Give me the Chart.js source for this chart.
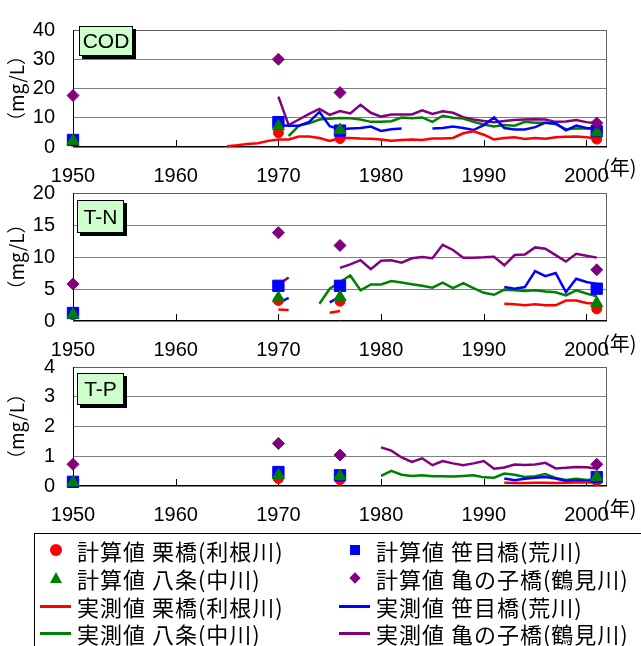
<!DOCTYPE html>
<html lang="ja">
<head>
<meta charset="UTF-8">
<title>COD / T-N / T-P</title>
<script src="https://cdn.jsdelivr.net/npm/chart.js"></script>
<style>
  body { margin: 0; background: #fff; }
  #wrap { position: relative; width: 641px; height: 646px; overflow: hidden; }
  #wrap canvas { position: absolute; left: 0; top: 0; }
  .tag { position: absolute; background: #ccffcc; border: 1px solid #000; box-shadow: 3px 3px 0 #000;
         font: 21px "Liberation Sans", Arial, sans-serif; text-align: center; box-sizing: border-box; color: #000; }
  .nen { position: absolute; left: 603px; font: 20px "Noto Sans CJK JP"; line-height: 20px; color: #000; }
  #legend { position: absolute; left: 34px; top: 533px; width: 640px; height: 130px; border: 1px solid #000; box-sizing: border-box; }
  .item { position: absolute; font: 22px "Noto Sans CJK JP"; line-height: 28px; letter-spacing: 1px; white-space: nowrap; color: #000; }
  .mk { position: absolute; }
</style>
</head>
<body>
<div id="wrap">
  <canvas id="cod" width="641" height="646"></canvas>
  <canvas id="tn" width="641" height="646"></canvas>
  <canvas id="tp" width="641" height="646"></canvas>

  <div class="tag" style="left:79px;top:26px;width:54px;height:30px;line-height:28px;">COD</div>
  <div class="tag" style="left:77px;top:200px;width:47px;height:33px;line-height:31px;">T-N</div>
  <div class="tag" style="left:77px;top:373px;width:47px;height:32px;line-height:30px;">T-P</div>

  <div class="nen" style="top:157px;">(年)</div>
  <div class="nen" style="top:333px;">(年)</div>
  <div class="nen" style="top:498px;">(年)</div>

  <div id="legend"></div>
</div>

<script>
  // 年
  const xTickYears = [1950, 1960, 1970, 1980, 1990, 2000];
  const measYears = [1965, 1966, 1967, 1968, 1969, 1970, 1971, 1972, 1973, 1974, 1975, 1976, 1977, 1978, 1979,
    1980, 1981, 1982, 1983, 1984, 1985, 1986, 1987, 1988, 1989, 1990, 1991, 1992, 1993, 1994, 1995, 1996,
    1997, 1998, 1999, 2000, 2001];
  const calcYears = [1950, 1970, 1976, 2001];

  // COD 計算値
  const codKuriCalc = [2.0, 4.9, 2.9, 2.7];
  const codSasameCalc = [2.4, 8.5, 5.6, 5.4];
  const codHachijoCalc = [2.1, 7.1, 5.8, 5.0];
  const codKamenokoCalc = [17.6, 30.0, 18.6, 8.2];
  // COD 実測値
  const codKuriMeas = [0.3, 0.6, 1.0, 1.3, 2.1, 2.6, 2.6, 3.6, 3.6, 3.1, 2.1, 3.1, 3.1, 2.9, 2.8, 2.6, 2.1, 2.4, 2.6,
    2.4, 2.9, 2.9, 3.1, 4.7, 5.4, 4.2, 2.6, 3.1, 3.3, 2.7, 3.1, 2.8, 3.3, 3.5, 3.6, 3.3, 2.9];
  const codSasameMeas = [null, null, null, null, null, 7.5, 7.3, 7.3, 8.6, 12.0, 7.1, 6.1, 6.3, 6.5, 7.0, 5.5, 6.1, 6.3,
    null, null, 6.3, 6.5, 7.0, 6.5, 5.8, 7.5, 10.1, 6.5, 6.0, 6.0, 6.8, 8.3, 8.1, 5.7, 7.3, 6.5, 6.3];
  const codHachijoMeas = [null, null, null, null, null, null, 3.7, 7.3, 8.1, 9.4, 9.7, 9.9, 9.8, 9.4, 8.6, 8.6, 8.8, 10.1,
    9.8, 10.1, 8.6, 10.7, 10.0, 9.7, 8.6, 7.7, 7.0, 7.5, 7.3, 8.6, 8.3, 8.3, 7.8, 6.1, 6.3, 6.3, 6.3];
  const codKamenokoMeas = [null, null, null, null, null, 17.2, 7.5, 9.4, 11.3, 13.0, 11.0, 12.3, 11.5, 14.4, 11.7, 10.4,
    11.1, 11.1, 11.1, 12.5, 11.3, 12.2, 11.7, 10.2, 9.4, 8.9, 8.5, 8.9, 9.2, 9.4, 9.5, 9.4, 8.6, 8.7, 9.2, 8.5, 8.1];

  // T-N 計算値
  const tnKuriCalc = [1.0, 3.2, 3.1, 1.9];
  const tnSasameCalc = [1.25, 5.5, 5.5, 5.05];
  const tnHachijoCalc = [1.0, 3.6, 3.75, 2.8];
  const tnKamenokoCalc = [5.8, 13.8, 11.8, 8.0];
  // T-N 実測値
  const tnKuriMeas = [null, null, null, null, null, 1.8, 1.7, null, null, null, 1.3, 1.55, null, null, null, null, null,
    null, null, null, null, null, null, null, null, null, null, 2.7, 2.6, 2.45, 2.6, 2.45, 2.45, 3.2, 3.2, 2.8, 2.7];
  const tnSasameMeas = [null, null, null, null, null, 2.8, 3.6, null, null, null, 2.9, 3.8, null, null, null, null, null,
    null, null, null, null, null, null, null, null, null, null, 5.3, 5.05, 5.3, 7.8, 7.0, 7.5, 4.5, 6.6, 6.1, 5.8];
  const tnHachijoMeas = [null, null, null, null, null, null, null, null, null, 2.7, 5.05, 6.1, 7.1, 4.8, 5.7, 5.7, 6.25,
    6.0, 5.75, 5.5, 5.2, 6.0, 5.15, 5.9, 5.15, 4.4, 4.1, 4.9, 4.8, 4.7, 4.8, 4.6, 4.5, 4.0, 4.8, 4.3, 3.85];
  const tnKamenokoMeas = [null, null, null, null, null, 5.7, 6.8, null, null, null, null, 8.3, 8.85, 9.5, 8.1, 9.4, 9.5,
    9.1, 9.8, 10.0, 9.8, 11.9, 11.1, 9.9, 9.9, 9.95, 10.05, 8.7, 10.3, 10.4, 11.5, 11.3, 10.3, 9.3, 10.5, 10.2, 9.9];

  // T-P 計算値
  const tpKuriCalc = [0.12, 0.25, 0.21, 0.17];
  const tpSasameCalc = [0.14, 0.47, 0.36, 0.30];
  const tpHachijoCalc = [0.12, 0.36, 0.33, 0.30];
  const tpKamenokoCalc = [0.73, 1.43, 1.04, 0.73];
  // T-P 実測値
  const tpKuriMeas = [null, null, null, null, null, null, null, null, null, null, null, null, null, null, null, null, null,
    null, null, null, null, null, null, null, null, null, null, 0.11, 0.1, 0.1, 0.11, 0.11, 0.1, 0.11, 0.12, 0.13, 0.12];
  const tpSasameMeas = [null, null, null, null, null, null, null, null, null, null, null, null, null, null, null, null, null,
    null, null, null, null, null, null, null, null, null, null, 0.25, 0.19, 0.24, 0.28, 0.3, 0.25, 0.17, 0.19, 0.17, 0.17];
  const tpHachijoMeas = [null, null, null, null, null, null, null, null, null, null, null, null, null, null, null, 0.34,
    0.51, 0.38, 0.34, 0.36, 0.33, 0.33, 0.32, 0.34, 0.36, 0.29, 0.28, 0.42, 0.38, 0.3, 0.33, 0.4, 0.27, 0.2, 0.24, 0.2, 0.23];
  const tpKamenokoMeas = [null, null, null, null, null, null, null, null, null, null, null, null, null, null, null, 1.3,
    1.19, 0.96, 0.81, 0.93, 0.7, 0.84, 0.76, 0.7, 0.76, 0.84, 0.58, 0.62, 0.72, 0.71, 0.72, 0.78, 0.59, 0.61, 0.64, 0.63, 0.59];

  const RED = "#ff0000", BLUE = "#0000ff", GREEN = "#008000", PURPLE = "#800080";
  const NUM_FONT = { family: "'Liberation Sans', Arial, sans-serif", size: 20 };

  function pts(xs, ys) {
    return xs.map((x, i) => ({ x: x, y: ys[i] }));
  }

  function lineSet(ys, color) {
    return { type: "line", data: pts(measYears, ys), borderColor: color, borderWidth: 2.5,
      pointRadius: 0, spanGaps: false, order: 10, clip: false };
  }

  function markSet(ys, color, style, radius, order) {
    return { type: "line", data: pts(calcYears, ys), showLine: false, pointStyle: style, pointRadius: radius,
      pointBackgroundColor: color, pointBorderColor: color, pointBorderWidth: 1, order: order, clip: false };
  }

  // 枠線と内向きの目盛り
  const framePlugin = {
    id: "frame",
    beforeDatasetsDraw(chart) {
      const { ctx, chartArea: a, scales } = chart;
      ctx.save();
      ctx.lineWidth = 1;
      ctx.strokeStyle = "#606060";
      ctx.beginPath();
      ctx.moveTo(a.left, a.top + 0.5);
      ctx.lineTo(a.right - 0.5, a.top + 0.5);
      ctx.lineTo(a.right - 0.5, a.bottom);
      ctx.stroke();
      ctx.strokeStyle = "#000";
      ctx.beginPath();
      ctx.moveTo(a.left + 0.5, a.top);
      ctx.lineTo(a.left + 0.5, a.bottom - 0.5);
      ctx.lineTo(a.right, a.bottom - 0.5);
      xTickYears.slice(1).forEach((yr) => {
        const x = Math.round(scales.x.getPixelForValue(yr)) + 0.5;
        ctx.moveTo(x, a.bottom);
        ctx.lineTo(x, a.bottom - 7);
      });
      ctx.stroke();
      ctx.restore();
    },
  };

  function makePanel(id, top, bottom, yMax, yStep, calc, meas) {
    const ctx = document.getElementById(id).getContext("2d");
    new Chart(ctx, {
      type: "line",
      data: {
        datasets: [
          lineSet(meas[0], RED),
          lineSet(meas[1], BLUE),
          lineSet(meas[2], GREEN),
          lineSet(meas[3], PURPLE),
          markSet(calc[0], RED, "circle", 5, 4),
          markSet(calc[1], BLUE, "rect", 8, 3),
          markSet(calc[2], GREEN, "triangle", 7, 2),
          markSet(calc[3], PURPLE, "rectRot", 6, 1),
        ],
      },
      options: {
        responsive: false,
        animation: false,
        events: [],
        layout: { padding: { left: 0, right: 34, top: top, bottom: 646 - bottom - 43 } },
        plugins: { legend: { display: false }, tooltip: { enabled: false } },
        scales: {
          x: {
            type: "linear",
            min: 1950,
            max: 2002,
            afterBuildTicks: (s) => { s.ticks = xTickYears.map((v) => ({ value: v })); },
            afterFit: (s) => { s.height = 43; },
            grid: { drawOnChartArea: false, drawTicks: false },
            border: { display: false },
            ticks: { padding: 17, color: "#000", font: NUM_FONT, maxRotation: 0, autoSkip: false,
              callback: (v) => String(v) },
          },
          y: {
            min: 0,
            max: yMax,
            afterFit: (s) => { s.width = 73; },
            grid: { color: "#808080", drawTicks: false },
            border: { display: false },
            ticks: { stepSize: yStep, padding: 18, color: "#000", font: NUM_FONT },
            title: { display: true, text: "（mg/L）", color: "#000",
              font: { family: "'Noto Sans CJK JP'", size: 19 }, padding: { top: 5, bottom: 0 } },
          },
        },
      },
      plugins: [framePlugin],
    });
  }

  makePanel("cod", 18, 147, 40, 10,
    [codKuriCalc, codSasameCalc, codHachijoCalc, codKamenokoCalc],
    [codKuriMeas, codSasameMeas, codHachijoMeas, codKamenokoMeas]);
  makePanel("tn", 193, 321, 20, 5,
    [tnKuriCalc, tnSasameCalc, tnHachijoCalc, tnKamenokoCalc],
    [tnKuriMeas, tnSasameMeas, tnHachijoMeas, tnKamenokoMeas]);
  makePanel("tp", 367, 486, 4, 1,
    [tpKuriCalc, tpSasameCalc, tpHachijoCalc, tpKamenokoCalc],
    [tpKuriMeas, tpSasameMeas, tpHachijoMeas, tpKamenokoMeas]);

  // 凡例
  const legendLabels = [
    "計算値 栗橋(利根川)", "計算値 笹目橋(荒川)",
    "計算値 八条(中川)", "計算値 亀の子橋(鶴見川)",
    "実測値 栗橋(利根川)", "実測値 笹目橋(荒川)",
    "実測値 八条(中川)", "実測値 亀の子橋(鶴見川)",
  ];
  const legendColors = [RED, BLUE, GREEN, PURPLE, RED, BLUE, GREEN, PURPLE];
  const legendKinds = ["circle", "square", "triangle", "diamond", "line", "line", "line", "line"];

  const legend = document.getElementById("legend");
  const rowCenters = [16, 44, 72, 99];
  const colText = [42, 341];
  const colMark = [21, 320];
  legendLabels.forEach((label, i) => {
    const row = Math.floor(i / 2), col = i % 2;
    const cy = rowCenters[row], cx = colMark[col], color = legendColors[i];
    const t = document.createElement("div");
    t.className = "item";
    t.textContent = label;
    t.style.left = colText[col] + "px";
    t.style.top = (cy - 14) + "px";
    legend.appendChild(t);

    const m = document.createElement("div");
    m.className = "mk";
    const kind = legendKinds[i];
    if (kind === "circle") {
      Object.assign(m.style, { left: cx - 6 + "px", top: cy - 6 + "px", width: "12px", height: "12px",
        borderRadius: "50%", background: color });
    } else if (kind === "square") {
      Object.assign(m.style, { left: cx - 5 + "px", top: cy - 5 + "px", width: "10px", height: "10px", background: color });
    } else if (kind === "triangle") {
      Object.assign(m.style, { left: cx - 6 + "px", top: cy - 6 + "px", width: "0", height: "0",
        borderLeft: "6px solid transparent", borderRight: "6px solid transparent", borderBottom: "11px solid " + color });
    } else if (kind === "diamond") {
      Object.assign(m.style, { left: cx - 4 + "px", top: cy - 4 + "px", width: "8px", height: "8px",
        background: color, transform: "rotate(45deg)" });
    } else {
      Object.assign(m.style, { left: cx - 16 + "px", top: cy - 1 + "px", width: "31px", height: "2.5px", background: color });
    }
    legend.appendChild(m);
  });
</script>
</body>
</html>
